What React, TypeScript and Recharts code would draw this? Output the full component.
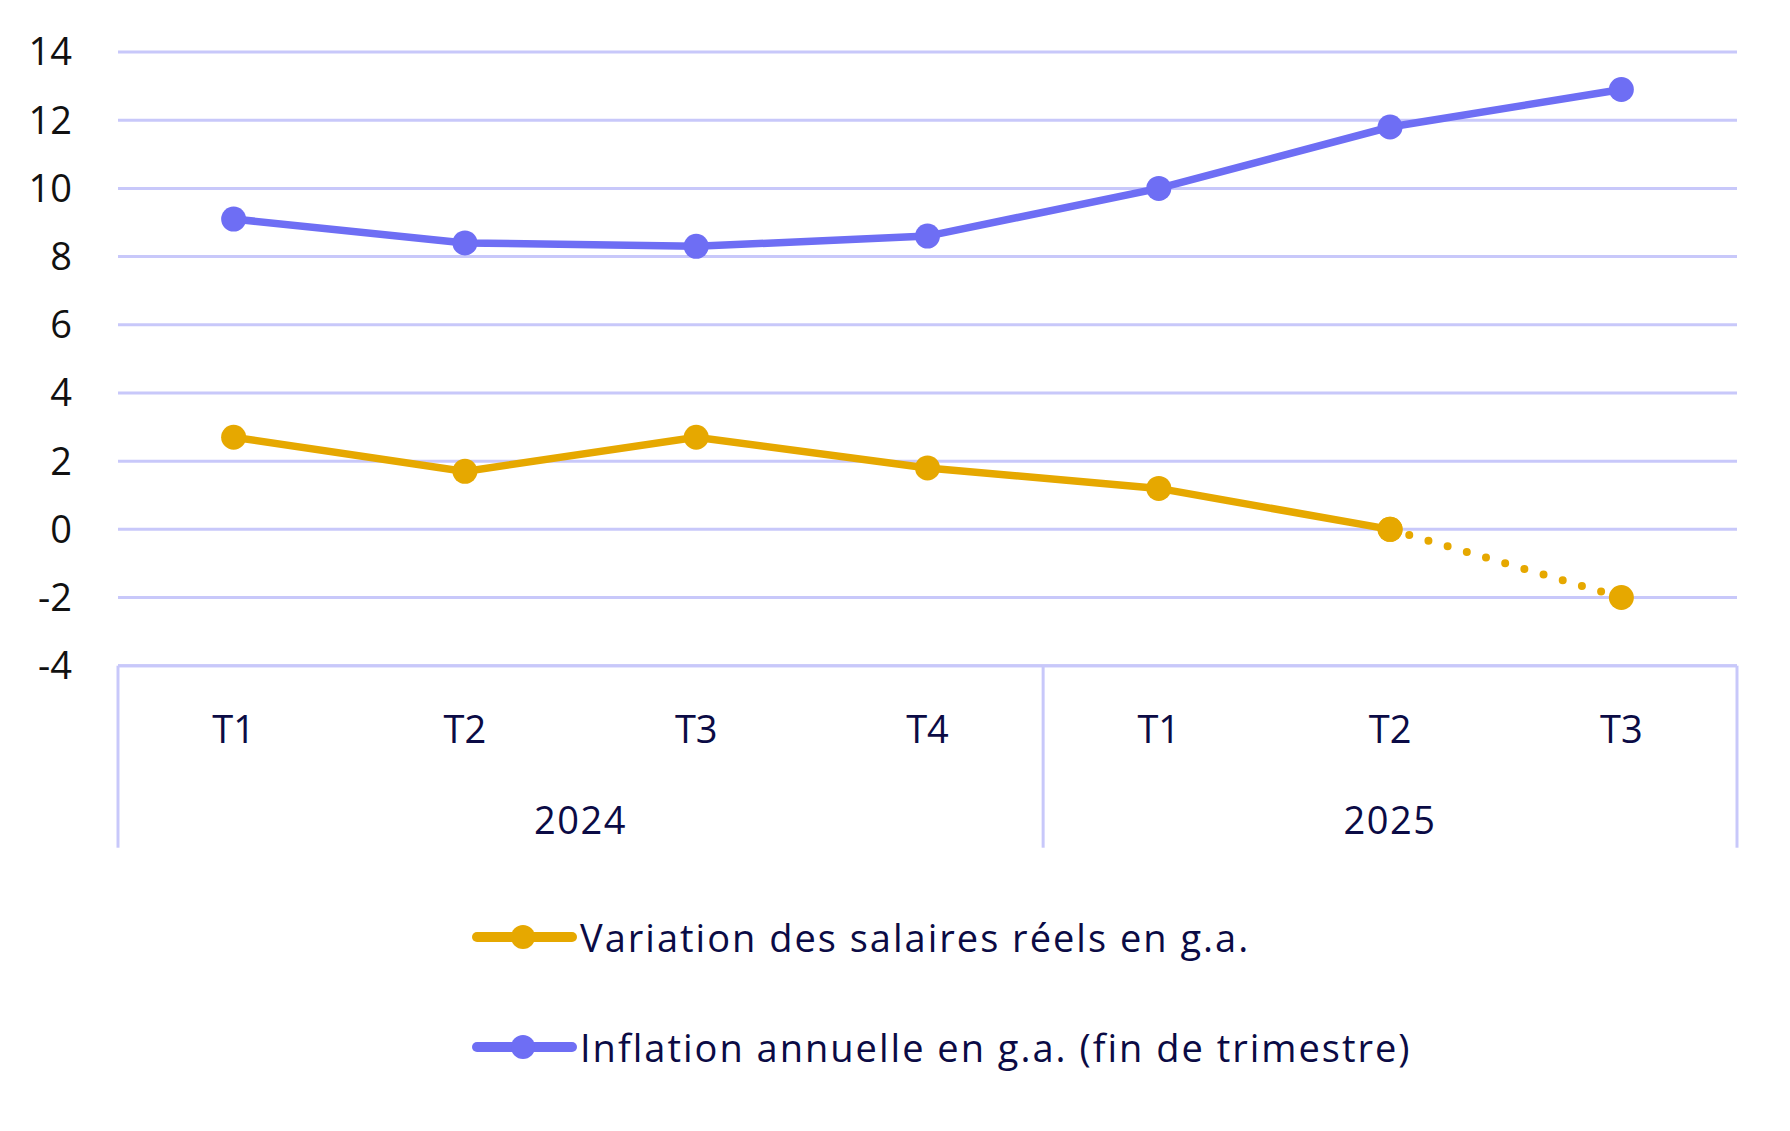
import { CartesianGrid, Legend, Line, LineChart, XAxis, YAxis } from 'recharts';

const quarters = ['T1', 'T2', 'T3', 'T4', 'T1', 'T2', 'T3'];
const years = ['2024', '2024', '2024', '2024', '2025', '2025', '2025'];
const realWages = [2.7, 1.7, 2.7, 1.8, 1.2, 0, -2];
const inflation = [9.1, 8.4, 8.3, 8.6, 10, 11.8, 12.9];
// last wage segment (T2 -> T3 2025) is an estimate, drawn dotted
const estimateFrom = 5;
const yTicks = [-4, -2, 0, 2, 4, 6, 8, 10, 12, 14];

const WAGES_NAME = 'Variation des salaires réels en g.a.';
const INFLATION_NAME = 'Inflation annuelle en g.a. (fin de trimestre)';
const legendOrder = [WAGES_NAME, INFLATION_NAME];

const GOLD = '#e6a800';
const BLUE = '#6e6ef4';
const GRID = '#c8c8fa';
const NAVY = '#0b0b45';
const FONT = '"Open Sans", "Noto Sans", sans-serif';

const W = 1790;
const H = 1131;
const Y_AXIS_W = 118;
const MARGIN = { top: 52, right: 53, left: 0, bottom: 261 };
const BAND = (W - Y_AXIS_W - MARGIN.right) / quarters.length;

const data = quarters.map((q, i) => ({
  key: `${years[i]}-${q}`,
  quarter: q,
  wages: i <= estimateFrom ? realWages[i] : null,
  wagesEst: i >= estimateFrom ? realWages[i] : null,
  inflation: inflation[i],
}));

function QuarterTick(props: any) {
  const { x, y, index } = props;
  const half = BAND / 2;
  const groupStart = index === 0 || years[index] !== years[index - 1];
  const last = index === years.length - 1;
  const groupSize = years.filter(yr => yr === years[index]).length;

  return (
    <g>
      <text
        x={x}
        y={y + 64}
        dy="0.36em"
        textAnchor="middle"
        fontSize={38}
        fontFamily={FONT}
        fill={NAVY}
      >
        {data[index].quarter}
      </text>
      {groupStart && (
        <>
          <line x1={x - half} y1={y} x2={x - half} y2={y + 182} stroke={GRID} strokeWidth={3} />
          <text
            x={x - half + (groupSize * BAND) / 2}
            y={y + 155}
            dy="0.36em"
            textAnchor="middle"
            fontSize={38}
            letterSpacing={1.5}
            fontFamily={FONT}
            fill={NAVY}
          >
            {years[index]}
          </text>
        </>
      )}
      {last && <line x1={x + half} y1={y} x2={x + half} y2={y + 182} stroke={GRID} strokeWidth={3} />}
    </g>
  );
}

function LegendContent({ payload }: any) {
  const items = (payload ?? [])
    .filter((p: any) => legendOrder.includes(p.value))
    .sort((a: any, b: any) => legendOrder.indexOf(a.value) - legendOrder.indexOf(b.value));
  return (
    <div style={{ display: 'flex', flexDirection: 'column' }}>
      {items.map((p: any) => (
        <div key={p.value} style={{ display: 'flex', alignItems: 'center', height: 110 }}>
          <svg width={105} height={30}>
            <line x1={5} y1={15} x2={100} y2={15} stroke={p.color} strokeWidth={10} strokeLinecap="round" />
            <circle cx={51} cy={15} r={12} fill={p.color} />
          </svg>
          <span
            style={{
              marginLeft: 3,
              fontSize: 38,
              letterSpacing: 2,
              fontFamily: FONT,
              color: NAVY,
              whiteSpace: 'nowrap',
            }}
          >
            {p.value}
          </span>
        </div>
      ))}
    </div>
  );
}

export default function App() {
  return (
    <div style={{ position: 'absolute', left: 0, top: 0, width: W, height: H, background: '#fff' }}>
      <LineChart width={W} height={H} data={data} margin={MARGIN}>
        <CartesianGrid vertical={false} stroke={GRID} strokeWidth={3} />
        <XAxis
          dataKey="key"
          scale="band"
          height={H - MARGIN.bottom - 665.7}
          interval={0}
          tickLine={false}
          tickSize={0}
          tickMargin={0}
          axisLine={{ stroke: GRID, strokeWidth: 3 }}
          tick={QuarterTick}
        />
        <YAxis
          domain={[-4, 14]}
          ticks={yTicks}
          width={Y_AXIS_W}
          axisLine={false}
          tickLine={false}
          tickSize={0}
          tickMargin={46}
          tick={{ fontSize: 38, fontFamily: FONT, fill: '#111' }}
        />
        <Legend
          layout="vertical"
          align="center"
          verticalAlign="middle"
          wrapperStyle={{ top: 882, left: 472, width: 'auto' }}
          content={LegendContent}
        />
        <Line
          name={WAGES_NAME}
          dataKey="wages"
          stroke={GOLD}
          strokeWidth={7.5}
          dot={{ r: 12.5, fill: GOLD, stroke: GOLD, strokeWidth: 0 }}
          activeDot={false}
          isAnimationActive={false}
        />
        <Line
          name="wagesEstimate"
          dataKey="wagesEst"
          legendType="none"
          stroke={GOLD}
          strokeWidth={8}
          strokeDasharray="0 20"
          strokeLinecap="round"
          dot={{ r: 12.5, fill: GOLD, stroke: GOLD, strokeWidth: 0, strokeDasharray: '' }}
          activeDot={false}
          isAnimationActive={false}
        />
        <Line
          name={INFLATION_NAME}
          dataKey="inflation"
          stroke={BLUE}
          strokeWidth={7.5}
          dot={{ r: 12.5, fill: BLUE, stroke: BLUE, strokeWidth: 0 }}
          activeDot={false}
          isAnimationActive={false}
        />
      </LineChart>
    </div>
  );
}
